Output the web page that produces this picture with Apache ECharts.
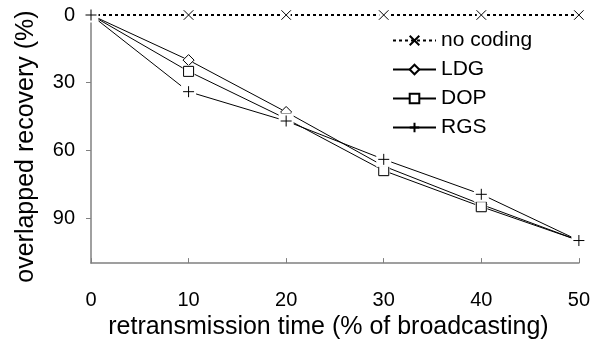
<!DOCTYPE html>
<html><head><meta charset="utf-8">
<script src="https://cdn.jsdelivr.net/npm/echarts@6/dist/echarts.min.js"></script>
<style>html,body{margin:0;padding:0;background:#fff}#c{width:593px;height:345px}</style>
</head><body><div id="c"></div>
<script>
const xValues = [0, 10, 20, 30, 40, 50];
const noCoding = [0, 0, 0, 0, 0, 0];
const ldg = [0, 20, 43, 67, 84, 100];
const dop = [0, 25, 46, 69, 85, 100];
const rgs = [0, 34, 47, 64, 79.5, 100];
const seriesNames = ['no coding', 'LDG', 'DOP', 'RGS'];
const xTitle = 'retransmission time (% of broadcasting)';
const yTitle = 'overlapped recovery (%)';

const FONT = '"Liberation Sans", Arial, sans-serif';
const PLUS = 'path://M0,5L10,5M5,0L5,10';
const CROSS = 'path://M0,0L10,10M10,0L0,10';
// markers are not drawn at these indices (points hidden behind others)
const hiddenIdx = [[0], [0, 5], [0, 5], []];
const valueSets = [noCoding, ldg, dop, rgs];
const pts = v => xValues.map((x, i) => [x, v[i]]);
const visiblePts = (v, hidden) => xValues.map((x, i) => [x, v[i]]).filter((p, i) => hidden.indexOf(i) < 0);

const markerDefs = [
  {symbol: CROSS, size: 9, fill: 'none', halo: 'rect', haloSize: 9},
  {symbol: 'diamond', size: 11, fill: '#fff', halo: 'diamond', haloSize: 13},
  {symbol: 'rect', size: 10, fill: '#fff', halo: 'rect', haloSize: 12},
  {symbol: PLUS, size: 11, fill: 'none', halo: 'rect', haloSize: 15}
];
const lineStyles = [
  {color: '#000', width: 2, type: [3, 3]},
  {color: '#000', width: 1},
  {color: '#000', width: 1},
  {color: '#000', width: 1}
];

const series = [];
valueSets.forEach((v, i) => {
  const m = markerDefs[i];
  series.push({
    name: seriesNames[i], type: 'line', z: 2,
    data: pts(v).map((p, k) => hiddenIdx[i].indexOf(k) >= 0 ? {value: p, symbol: 'none'} : p),
    symbol: m.symbol, symbolSize: m.size,
    lineStyle: lineStyles[i],
    itemStyle: {color: m.fill, borderColor: '#000', borderWidth: 1}
  });
});
valueSets.forEach((v, i) => {
  const m = markerDefs[i];
  const d = visiblePts(v, hiddenIdx[i]);
  series.push({
    type: 'scatter', z: 3 + 2 * i, silent: true, data: d,
    symbol: m.halo, symbolSize: m.haloSize,
    itemStyle: {color: '#fff', borderWidth: 0, opacity: 1}
  });
  series.push({
    type: 'scatter', z: 4 + 2 * i, silent: true, data: d,
    symbol: m.symbol, symbolSize: m.size,
    itemStyle: {color: m.fill === 'none' ? 'none' : 'rgba(255,255,255,0)', borderColor: '#000', borderWidth: 1, opacity: 1}
  });
});

const chart = echarts.init(document.getElementById('c'), null, {renderer: 'canvas'});
chart.setOption({
  animation: false,
  textStyle: {fontFamily: FONT, color: '#000'},
  grid: {left: 91, right: 11, top: 15, bottom: 77, containLabel: false},
  legend: {
    orient: 'vertical', left: 387, top: 25,
    itemWidth: 43, itemHeight: 12, itemGap: 8,
    textStyle: {fontSize: 21, fontFamily: FONT, color: '#000'},
    data: seriesNames
  },
  xAxis: {
    type: 'value', min: 0, max: 50, interval: 10,
    name: xTitle, nameLocation: 'middle', nameGap: 50,
    nameTextStyle: {fontSize: 25, fontFamily: FONT, color: '#000', padding: [0, 13, 0, 0]},
    axisLine: {onZero: false, lineStyle: {color: '#808080', width: 1.5}},
    axisTick: {inside: true, length: 5, lineStyle: {color: '#808080'}},
    axisLabel: {fontSize: 20, fontFamily: FONT, color: '#000', margin: 27},
    splitLine: {show: false}
  },
  yAxis: {
    type: 'value', min: 0, max: 110, interval: 30, inverse: true,
    name: yTitle, nameLocation: 'middle', nameGap: 52,
    nameTextStyle: {fontSize: 25, fontFamily: FONT, color: '#000', padding: [0, 15, 0, 0]},
    axisLine: {show: true, lineStyle: {color: '#808080', width: 1.5}},
    axisTick: {show: true, length: 5, lineStyle: {color: '#808080'}},
    axisLabel: {fontSize: 20, fontFamily: FONT, color: '#000', margin: 16, showMaxLabel: false},
    splitLine: {show: false}
  },
  series: series
});
</script></body></html>
